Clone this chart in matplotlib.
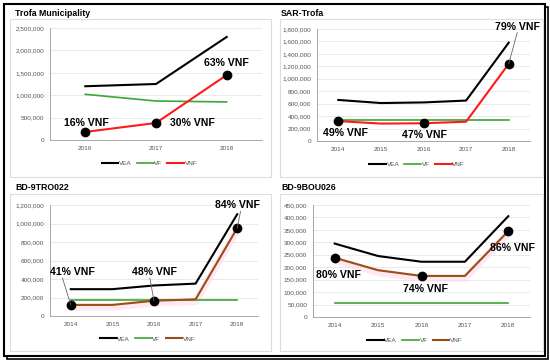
import matplotlib
matplotlib.use("Agg")
import matplotlib.pyplot as plt
from matplotlib.patches import Rectangle
from matplotlib.ticker import FuncFormatter

plt.rcParams['font.family'] = ['Liberation Sans', 'DejaVu Sans']

# ---------------- data ----------------
titles = ["Trofa Municipality", "SAR-Trofa", "BD-9TRO022", "BD-9BOU026"]

years_tl = ["2016", "2017", "2018"]
years_5 = ["2014", "2015", "2016", "2017", "2018"]

vea_tl = [1200000, 1250000, 2300000]
vf_tl = [1020000, 870000, 850000]
vnf_tl = [180000, 380000, 1450000]

vea_tr = [660000, 610000, 620000, 650000, 1580000]
vf_tr = [335000, 335000, 335000, 335000, 335000]
vnf_tr = [320000, 280000, 285000, 310000, 1240000]

vea_bl = [290000, 290000, 330000, 350000, 1100000]
vf_bl = [170000, 170000, 170000, 170000, 170000]
vnf_bl = [120000, 120000, 165000, 180000, 950000]

vea_br = [295000, 245000, 222000, 222000, 405000]
vf_br = [57000, 57000, 57000, 57000, 57000]
vnf_br = [238000, 188000, 165000, 165000, 345000]

# percent labels: (index of point, text)
labels_tl = [(0, "16% VNF"), (1, "30% VNF"), (2, "63% VNF")]
labels_tr = [(0, "49% VNF"), (2, "47% VNF"), (4, "79% VNF")]
labels_bl = [(0, "41% VNF"), (2, "48% VNF"), (4, "84% VNF")]
labels_br = [(0, "80% VNF"), (2, "74% VNF"), (4, "86% VNF")]

W, H = 550, 363
fig = plt.figure(figsize=(5.5, 3.63), dpi=100, facecolor="white")


def box(x0, y0, x1, y1):
    # pixel box -> figure fraction
    return [x0 / W, 1 - y1 / H, (x1 - x0) / W, (y1 - y0) / H]


# outer frame with a small shadow
fig.patches.append(Rectangle((7 / W, 1 - 359 / H), 541 / W, 352 / H, transform=fig.transFigure,
                             fill=False, edgecolor="black", linewidth=1.2, zorder=-2))
fig.patches.append(Rectangle((4 / W, 1 - 356 / H), 541 / W, 352 / H, transform=fig.transFigure,
                             facecolor="white", edgecolor="black", linewidth=1.5, zorder=-1))

# panel frames (light gray)
for (x0, y0, x1, y1) in [(10, 19, 271, 177), (280, 19, 543, 177), (10, 194, 271, 351), (280, 194, 543, 351)]:
    fig.patches.append(Rectangle((x0 / W, 1 - y1 / H), (x1 - x0) / W, (y1 - y0) / H,
                                 transform=fig.transFigure, fill=False, edgecolor="#dddddd",
                                 linewidth=0.8, zorder=-0.5))

title_pos = [(15, 13), (281, 13), (15, 188), (281, 188)]
for t, (x, y) in zip(titles, title_pos):
    fig.text(x / W, 1 - y / H, t, fontsize=6.3, fontweight="bold", va="center", ha="left")

fmt = FuncFormatter(lambda v, p: f"{int(v):,}")


def panel(rect, years, vea, vf, vnf, ymax, ystep, vnf_color, pink, labels, label_pos, leaders):
    ax = fig.add_axes(rect)
    ax.patch.set_alpha(0)
    x = list(range(len(years)))
    if pink:
        ax.plot(x, [v - 25000 * ymax / 1200000 for v in vnf], color="#ffd9ea", lw=5, alpha=0.6,
                solid_capstyle="butt", zorder=1)
    ax.plot(x, vea, color="black", lw=1.5, label="VEA", zorder=3)
    ax.plot(x, vf, color="#3aa635", lw=1.2, label="VF", zorder=3)
    ax.plot(x, vnf, color=vnf_color, lw=1.5, label="VNF", zorder=4)
    idx = [i for i, _ in labels]
    ax.plot(idx, [vnf[i] for i in idx], "o", color="black", ms=6, zorder=5)
    for (i, txt), (tx, ty), lead in zip(labels, label_pos, leaders):
        ax.text(tx, ty, txt, fontsize=7.6, fontweight="bold", ha="center", va="center", zorder=6,
                clip_on=False)
        if lead is not None:
            ax.plot([lead[0], i], [lead[1], vnf[i]], color="#666666", lw=0.6, zorder=5, clip_on=False)
    n = len(years)
    ax.set_xlim(-0.5, n - 0.5)
    ax.set_ylim(0, ymax)
    ax.set_yticks([ystep * k for k in range(int(round(ymax / ystep)) + 1)])
    ax.yaxis.set_major_formatter(fmt)
    ax.set_xticks(x)
    ax.set_xticklabels(years)
    ax.tick_params(labelsize=4.6, labelcolor="#555555", length=0, pad=4)
    ax.grid(axis="y", color="#e6e6e6", lw=0.6)
    ax.set_axisbelow(True)
    for s in ["top", "right"]:
        ax.spines[s].set_visible(False)
    for s in ["left", "bottom"]:
        ax.spines[s].set_color("#999999")
        ax.spines[s].set_linewidth(0.6)
    ax.legend(loc="upper center", bbox_to_anchor=(0.47, -0.13), ncol=3, frameon=False,
              fontsize=4.6, handlelength=2.6, handletextpad=0.1, columnspacing=0.8,
              labelcolor="#555555")
    return ax


panel(box(50, 28, 262, 140), years_tl, vea_tl, vf_tl, vnf_tl, 2500000, 500000, "#ff1a1a", False,
      labels_tl, [(0.02, 390000), (1.51, 380000), (2.0, 1720000)], [None, None, None])
panel(box(317, 29, 530, 141), years_5, vea_tr, vf_tr, vnf_tr, 1800000, 200000, "#ff1a1a", False,
      labels_tr, [(0.17, 129000), (2.03, 96000), (4.2, 1830000)], [None, None, (4.2, 1740000)])
panel(box(50, 205, 258, 316), years_5, vea_bl, vf_bl, vnf_bl, 1200000, 200000, "#9a4d16", True,
      labels_bl, [(0.03, 476000), (2.0, 476000), (4.0, 1205000)],
      [(-0.2, 410000), (1.9, 410000), (4.08, 1130000)])
panel(box(313, 205, 530, 317), years_5, vea_br, vf_br, vnf_br, 450000, 50000, "#9a4d16", True,
      labels_br, [(0.09, 169000), (2.1, 112000), (4.1, 277000)], [None, None, None])

fig.savefig("out.png", dpi=100)
